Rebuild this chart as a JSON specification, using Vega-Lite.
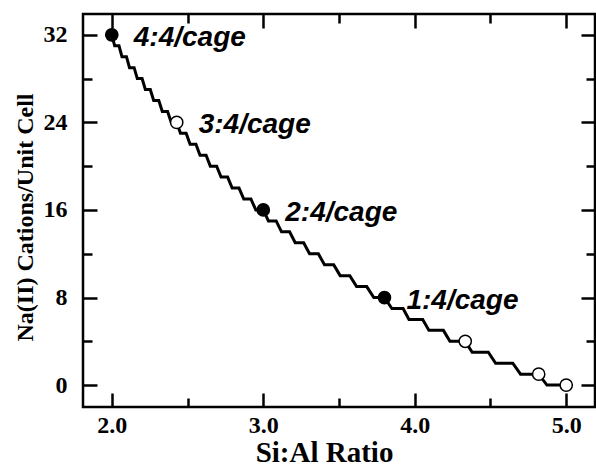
{
  "$schema": "https://vega.github.io/schema/vega-lite/v6.json",
  "width": 512,
  "height": 393,
  "autosize": {"type": "none"},
  "padding": {"left": 83, "top": 14, "right": 1, "bottom": 61},
  "background": "white",
  "config": {
    "view": {"stroke": "black", "strokeWidth": 2.5},
    "axis": {
      "domain": false, "grid": false, "tickColor": "black", "tickWidth": 2.5,
      "labelFont": "Liberation Serif", "labelFontWeight": "bold", "labelFontSize": 24, "labelColor": "black",
      "titleFont": "Liberation Serif", "titleFontWeight": "bold", "titleColor": "black"
    }
  },
  "datasets": {
    "stair": [
      {"i": 0, "ratio": 2.0, "na": 32}, {"i": 1, "ratio": 2.019, "na": 31}, {"i": 2, "ratio": 2.0476, "na": 31},
      {"i": 3, "ratio": 2.0673, "na": 30}, {"i": 4, "ratio": 2.0968, "na": 30}, {"i": 5, "ratio": 2.1171, "na": 29},
      {"i": 6, "ratio": 2.1475, "na": 29}, {"i": 7, "ratio": 2.1685, "na": 28}, {"i": 8, "ratio": 2.2, "na": 28},
      {"i": 9, "ratio": 2.2217, "na": 27}, {"i": 10, "ratio": 2.2542, "na": 27}, {"i": 11, "ratio": 2.2766, "na": 26},
      {"i": 12, "ratio": 2.3103, "na": 26}, {"i": 13, "ratio": 2.3335, "na": 25}, {"i": 14, "ratio": 2.3684, "na": 25},
      {"i": 15, "ratio": 2.3925, "na": 24}, {"i": 16, "ratio": 2.4286, "na": 24}, {"i": 17, "ratio": 2.4535, "na": 23},
      {"i": 18, "ratio": 2.4909, "na": 23}, {"i": 19, "ratio": 2.5168, "na": 22}, {"i": 20, "ratio": 2.5556, "na": 22},
      {"i": 21, "ratio": 2.5824, "na": 21}, {"i": 22, "ratio": 2.6226, "na": 21}, {"i": 23, "ratio": 2.6505, "na": 20},
      {"i": 24, "ratio": 2.6923, "na": 20}, {"i": 25, "ratio": 2.7213, "na": 19}, {"i": 26, "ratio": 2.7647, "na": 19},
      {"i": 27, "ratio": 2.7948, "na": 18}, {"i": 28, "ratio": 2.84, "na": 18}, {"i": 29, "ratio": 2.8714, "na": 17},
      {"i": 30, "ratio": 2.9184, "na": 17}, {"i": 31, "ratio": 2.951, "na": 16}, {"i": 32, "ratio": 3.0, "na": 16},
      {"i": 33, "ratio": 3.034, "na": 15}, {"i": 34, "ratio": 3.0851, "na": 15}, {"i": 35, "ratio": 3.1206, "na": 14},
      {"i": 36, "ratio": 3.1739, "na": 14}, {"i": 37, "ratio": 3.211, "na": 13}, {"i": 38, "ratio": 3.2667, "na": 13},
      {"i": 39, "ratio": 3.3055, "na": 12}, {"i": 40, "ratio": 3.3636, "na": 12}, {"i": 41, "ratio": 3.4042, "na": 11},
      {"i": 42, "ratio": 3.4651, "na": 11}, {"i": 43, "ratio": 3.5076, "na": 10}, {"i": 44, "ratio": 3.5714, "na": 10},
      {"i": 45, "ratio": 3.616, "na": 9}, {"i": 46, "ratio": 3.6829, "na": 9}, {"i": 47, "ratio": 3.7297, "na": 8},
      {"i": 48, "ratio": 3.8, "na": 8}, {"i": 49, "ratio": 3.8492, "na": 7}, {"i": 50, "ratio": 3.9231, "na": 7},
      {"i": 51, "ratio": 3.962, "na": 6}, {"i": 52, "ratio": 4.0526, "na": 6}, {"i": 53, "ratio": 4.0936, "na": 5},
      {"i": 54, "ratio": 4.1892, "na": 5}, {"i": 55, "ratio": 4.2324, "na": 4}, {"i": 56, "ratio": 4.3333, "na": 4},
      {"i": 57, "ratio": 4.379, "na": 3}, {"i": 58, "ratio": 4.4857, "na": 3}, {"i": 59, "ratio": 4.5341, "na": 2},
      {"i": 60, "ratio": 4.6471, "na": 2}, {"i": 61, "ratio": 4.6984, "na": 1}, {"i": 62, "ratio": 4.8182, "na": 1},
      {"i": 63, "ratio": 4.8727, "na": 0}, {"i": 64, "ratio": 5.0, "na": 0}
    ],
    "pts": [
      {"ratio": 2.0, "na": 32, "kind": "filled", "label": "4:4/cage"},
      {"ratio": 2.4286, "na": 24, "kind": "open", "label": "3:4/cage"},
      {"ratio": 3.0, "na": 16, "kind": "filled", "label": "2:4/cage"},
      {"ratio": 3.8, "na": 8, "kind": "filled", "label": "1:4/cage"},
      {"ratio": 4.3333, "na": 4, "kind": "open", "label": ""},
      {"ratio": 4.8182, "na": 1, "kind": "open", "label": ""},
      {"ratio": 5.0, "na": 0, "kind": "open", "label": ""}
    ]
  },
  "resolve": {"axis": {"x": "independent", "y": "independent"}},
  "layer": [
    {
      "data": {"name": "stair"},
      "mark": {"type": "line", "color": "black", "strokeWidth": 3, "strokeJoin": "miter"},
      "encoding": {
        "x": {"field": "ratio", "type": "quantitative",
          "scale": {"domain": [1.81, 5.19], "nice": false, "zero": false},
          "axis": {"orient": "bottom", "values": [2, 3, 4, 5], "format": ".1f", "tickSize": -14, "labelPadding": 20,
            "title": "Si:Al Ratio", "titleFontSize": 29, "titleX": 241, "titleY": 54, "titleAlign": "center", "titleBaseline": "alphabetic"}},
        "y": {"field": "na", "type": "quantitative",
          "scale": {"domain": [-2, 33.9], "nice": false, "zero": false},
          "axis": {"orient": "left", "values": [0, 8, 16, 24, 32], "tickSize": -14, "labelPadding": 30,
            "title": "Na(II) Cations/Unit Cell", "titleFontSize": 24, "titleX": -51, "titleY": 203, "titleAngle": -90, "titleAlign": "center", "titleBaseline": "alphabetic"}},
        "order": {"field": "i", "type": "quantitative"}
      }
    },
    {
      "data": {"name": "pts"},
      "transform": [{"filter": "datum.kind === 'filled'"}],
      "mark": {"type": "point", "shape": "circle", "filled": true, "fill": "black", "stroke": "black", "strokeWidth": 1.5, "size": 150, "opacity": 1},
      "encoding": {
        "x": {"field": "ratio", "type": "quantitative", "scale": {"domain": [1.81, 5.19], "nice": false, "zero": false},
          "axis": {"orient": "top", "values": [2, 3, 4, 5], "tickSize": -14, "labels": false, "title": null}},
        "y": {"field": "na", "type": "quantitative", "scale": {"domain": [-2, 33.9], "nice": false, "zero": false},
          "axis": {"orient": "right", "values": [0, 8, 16, 24, 32], "tickSize": -14, "labels": false, "title": null}}
      }
    },
    {
      "data": {"name": "pts"},
      "transform": [{"filter": "datum.kind === 'open'"}],
      "mark": {"type": "point", "shape": "circle", "filled": true, "fill": "white", "stroke": "black", "strokeWidth": 1.5, "size": 150, "opacity": 1},
      "encoding": {
        "x": {"field": "ratio", "type": "quantitative", "scale": {"domain": [1.81, 5.19], "nice": false, "zero": false},
          "axis": {"orient": "bottom", "values": [2.5, 3.5, 4.5], "tickSize": -9, "labels": false, "title": null}},
        "y": {"field": "na", "type": "quantitative", "scale": {"domain": [-2, 33.9], "nice": false, "zero": false},
          "axis": {"orient": "left", "values": [4, 12, 20, 28], "tickSize": -9, "labels": false, "title": null}}
      }
    },
    {
      "data": {"name": "pts"},
      "transform": [{"filter": "datum.label !== ''"}],
      "mark": {"type": "text", "align": "left", "baseline": "middle", "dx": 22, "dy": 3,
        "font": "Liberation Sans", "fontWeight": "bold", "fontStyle": "italic", "fontSize": 28, "color": "black"},
      "encoding": {
        "x": {"field": "ratio", "type": "quantitative", "scale": {"domain": [1.81, 5.19], "nice": false, "zero": false},
          "axis": {"orient": "top", "values": [2.5, 3.5, 4.5], "tickSize": -9, "labels": false, "title": null}},
        "y": {"field": "na", "type": "quantitative", "scale": {"domain": [-2, 33.9], "nice": false, "zero": false},
          "axis": {"orient": "right", "values": [4, 12, 20, 28], "tickSize": -9, "labels": false, "title": null}},
        "text": {"field": "label"}
      }
    }
  ]
}
